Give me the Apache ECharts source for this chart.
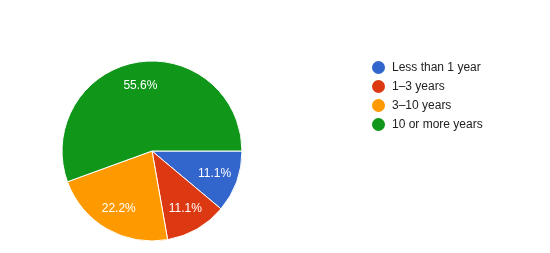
<!DOCTYPE html>
<html>
<head>
<meta charset="utf-8">
<script src="https://cdn.jsdelivr.net/npm/echarts@6/dist/echarts.min.js"></script>
<style>html,body{margin:0;padding:0;background:#fff}#c{width:550px;height:253px}</style>
</head>
<body>
<div id="c"></div>
<script>
var categories = ['Less than 1 year', '1\u20133 years', '3\u201310 years', '10 or more years'];
var values = [1, 1, 2, 5];
var colors = ['#3366cc', '#dc3912', '#ff9900', '#109618'];

var data = categories.map(function (n, i) { return { name: n, value: values[i] }; });
var chart = echarts.init(document.getElementById('c'), null, { renderer: 'canvas' });
chart.setOption({
  animation: false,
  color: colors,
  legend: {
    orient: 'vertical',
    left: 365,
    top: 54,
    icon: 'circle',
    itemWidth: 17,
    itemHeight: 15,
    itemGap: 2,
    data: categories,
    textStyle: { fontFamily: 'Liberation Sans, Arial, sans-serif', fontSize: 12, color: '#222222' }
  },
  series: [
    {
      type: 'pie',
      center: [152, 151],
      radius: [0, 90],
      startAngle: 0,
      clockwise: true,
      data: data,
      label: { show: false },
      labelLine: { show: false },
      itemStyle: { borderColor: '#ffffff', borderWidth: 1 },
      emphasis: { disabled: true }
    },
    {
      type: 'pie',
      center: [152, 151],
      radius: [37, 90],
      startAngle: 0,
      clockwise: true,
      silent: true,
      data: data,
      itemStyle: { color: 'rgba(0,0,0,0)' },
      label: {
        show: true,
        position: 'inside',
        formatter: function (p) { return p.percent.toFixed(1) + '%'; },
        color: '#ffffff',
        fontFamily: 'Liberation Sans, Arial, sans-serif',
        fontSize: 12
      },
      labelLine: { show: false },
      emphasis: { disabled: true },
      legendHoverLink: false
    }
  ]
});
</script>
</body>
</html>
